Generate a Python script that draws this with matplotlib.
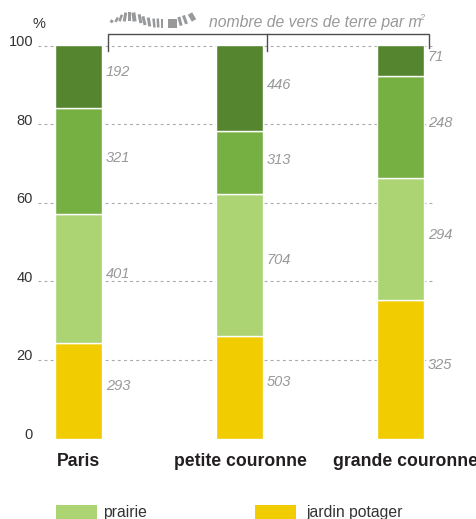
import matplotlib
matplotlib.use("Agg")
import matplotlib.pyplot as plt
from matplotlib.patches import Rectangle
from matplotlib.transforms import Affine2D

plt.rcParams["font.family"] = ["Liberation Sans"]

W, H = 477, 519

zones = ["Paris", "petite couronne", "grande couronne"]
jardin = [24.3, 26.0, 35.2]
prairie = [32.8, 36.2, 31.1]
moyen = [27.1, 16.0, 25.9]
fonce = [15.85, 21.8, 7.8]
series = [jardin, prairie, moyen, fonce]
colors = ["#f0cc00", "#acd472", "#76b043", "#55852f"]

counts = [[293, 503, 325], [401, 704, 294], [321, 313, 248], [192, 446, 71]]
count_y = [[13.3, 14.5, 18.7], [41.9, 45.3, 51.8], [71.4, 70.9, 80.3], [93.3, 90.0, 97.1]]

yticks = [0, 20, 40, 60, 80, 100]

# one axes over the whole figure, scaled so that the bars land where they should
px_x = 161.0
px_y = 3.93
x0 = 78.5
y0 = 438.5

fig = plt.figure(figsize=(W / 100, H / 100), dpi=100)
ax = fig.add_axes([0, 0, 1, 1])
ax.set_xlim(-x0 / px_x, (W - x0) / px_x)
ax.set_ylim(-(H - y0) / px_y, y0 / px_y)
ax.axis("off")

# furniture is placed in image pixels, origin top left
pix = Affine2D().scale(1, -1).translate(0, H)
dark = "#333333"
grey = "#98999b"

for v in yticks[1:]:
    ax.plot([-0.25, 2.2], [v, v], color="#a8a8a8", lw=0.8, dashes=(2.5, 3), zorder=1)
for v in yticks:
    ax.text(33, y0 - v * px_y - 3.5, str(v), transform=pix, ha="right", va="center",
            fontsize=10.5, color=dark)
ax.text(39, 24, "%", transform=pix, ha="center", va="center", fontsize=10.5, color=dark)

bottom = [0, 0, 0]
for vals, c in zip(series, colors):
    ax.bar(range(3), vals, 0.29, bottom=bottom, color=c, edgecolor="white", lw=1.0, zorder=2)
    bottom = [b + v for b, v in zip(bottom, vals)]

for row, ys in zip(counts, count_y):
    for i, (n, y) in enumerate(zip(row, ys)):
        ax.text(i + 0.17, y, str(n), ha="left", va="center", style="italic",
                fontsize=10.5, color=grey, zorder=3)

for x, name in zip([78.5, 240, 405.5], zones):
    ax.text(x, 461, name, transform=pix, ha="center", va="center", fontsize=12.7,
            fontweight="bold", color="#231f20")

# bracket
ax.plot([107.5, 107.5, 429, 429], [51, 33.5, 33.5, 48], transform=pix,
        color="#4d4d4f", lw=1.0, solid_joinstyle="miter", zorder=4)
ax.plot([267, 267], [33.5, 51], transform=pix, color="#4d4d4f", lw=1.0, zorder=4)
ax.text(209, 22, "nombre de vers de terre par m", transform=pix, ha="left", va="center",
        style="italic", fontsize=11.3, color=grey)
ax.text(419.5, 17, "2", transform=pix, ha="left", va="center", style="italic", fontsize=6.5, color=grey)

# worm
worm_x = [111.7, 116.7, 120.7, 125, 129, 134, 140, 144, 149, 154, 158, 162, 172, 180, 185, 192]
worm_y = [21.3, 19.7, 18, 17, 16.3, 17, 18.7, 20.7, 22, 23, 23, 23, 23, 21.3, 19.7, 17]
worm_h = [3, 5, 7, 9, 9, 9, 9, 9, 9, 9, 9, 9, 9, 9, 9, 8]
worm_w = [3, 2.5, 2.5, 3, 3, 4, 3, 3, 3, 2.5, 2.5, 2.5, 9, 3, 3, 5]
worm_a = [40, 30, 20, 10, 0, -8, -12, -14, -10, -6, -3, 0, 0, -15, -20, -30]
for x, y, h, w, a in zip(worm_x, worm_y, worm_h, worm_w, worm_a):
    r = Rectangle((-w / 2, -h / 2), w, h, color=grey, lw=0,
                  transform=Affine2D().rotate_deg(a).translate(x, y) + pix)
    ax.add_patch(r)

# legend, cut off at the bottom as in the original
ax.add_patch(Rectangle((56, 505), 41, 14, transform=pix, color="#acd472", lw=0))
ax.add_patch(Rectangle((255, 505), 41, 14, transform=pix, color="#f0cc00", lw=0))
ax.text(103, 512, "prairie", transform=pix, ha="left", va="center", fontsize=11.3, color=dark)
ax.text(306, 512, "jardin potager", transform=pix, ha="left", va="center", fontsize=11.3, color=dark)

fig.savefig("out.png", dpi=100)
